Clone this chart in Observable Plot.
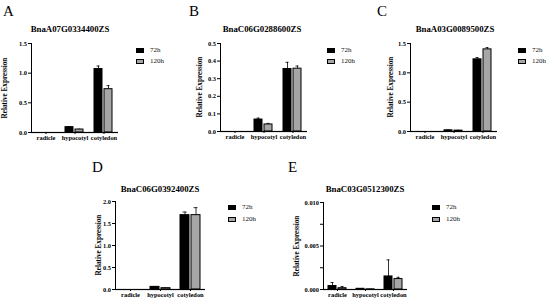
<!DOCTYPE html>
<html>
<head>
<meta charset="utf-8">
<script src="https://cdn.jsdelivr.net/npm/d3@7"></script>
<script src="https://cdn.jsdelivr.net/npm/@observablehq/plot@0.6"></script>
<style>
  html, body { margin: 0; padding: 0; background: #fff; }
  #root { position: relative; width: 550px; height: 304px; overflow: hidden; background: #fff; font-family: "Liberation Serif", "Times New Roman", serif; }
  .abs { position: absolute; white-space: nowrap; }
  .letter { font-size: 15px; line-height: 15px; color: #000; }
  .title { font-size: 8.8px; line-height: 9px; font-weight: bold; text-align: center; width: 200px; }
  .ylab { font-size: 7.2px; line-height: 8px; font-weight: bold; text-align: center; width: 120px; transform: rotate(-90deg); transform-origin: 50% 50%; }
  .leg { font-size: 7px; line-height: 7px; color: #111; }
  .sw { position: absolute; width: 8px; height: 5px; box-sizing: border-box; }
  svg { overflow: visible; }
</style>
</head>
<body>
<div id="root"></div>
<script>
// ---- data ----
const categories = ["radicle", "hypocotyl", "cotyledon"];
const series = ["72h", "120h"];
const panelLetters = ["A", "B", "C", "D", "E"];
const genes = ["BnaA07G0334400ZS", "BnaC06G0288600ZS", "BnaA03G0089500ZS", "BnaC06G0392400ZS", "BnaC03G0512300ZS"];
const yLabel = "Relative Expression";

// means and errors (per category: radicle, hypocotyl, cotyledon)
const A_72 = [0, 0.09, 1.07];
const A_72err = [0, 0.008, 0.05];
const A_120 = [0, 0.05, 0.73];
const A_120err = [0, 0.005, 0.06];

const B_72 = [0, 0.068, 0.355];
const B_72err = [0, 0.008, 0.038];
const B_120 = [0, 0.040, 0.357];
const B_120err = [0, 0.006, 0.015];

const C_72 = [0, 0.02, 1.23];
const C_72err = [0, 0.005, 0.03];
const C_120 = [0, 0.015, 1.40];
const C_120err = [0, 0.004, 0.03];

const D_72 = [0, 0.06, 1.69];
const D_72err = [0, 0.005, 0.07];
const D_120 = [0, 0.03, 1.69];
const D_120err = [0, 0.003, 0.17];

const E_72 = [0.0004, 0.00008, 0.0015];
const E_72err = [0.0004, 0.00003, 0.0019];
const E_120 = [0.00015, 0.00002, 0.0012];
const E_120err = [0.0002, 0.00001, 0.0002];

const A_ticks = [0, 0.5, 1.0, 1.5];
const B_ticks = [0, 0.1, 0.2, 0.3, 0.4, 0.5];
const C_ticks = [0, 0.5, 1.0, 1.5];
const D_ticks = [0, 0.5, 1.0, 1.5, 2.0];
const E_ticks = [0, 0.0025, 0.005, 0.0075, 0.010];
const E_labeled = [0, 0.005, 0.010];

// ---- layout ----
const panels = [
  {means: [A_72, A_120], errs: [A_72err, A_120err], max: 1.5, ticks: A_ticks, fmt: d3.format(".1f"),
   axisX: 30, topY: 43, zeroY: 132, right: 118, ylabX: 5,
   letter: [3, 4], title: [70, 29.5], legend: [136, 48, 59]},
  {means: [B_72, B_120], errs: [B_72err, B_120err], max: 0.5, ticks: B_ticks, fmt: d3.format(".1f"),
   axisX: 219, topY: 43, zeroY: 131, right: 307, ylabX: 200,
   letter: [189, 4], title: [262, 29.5], legend: [327, 48, 59]},
  {means: [C_72, C_120], errs: [C_72err, C_120err], max: 1.5, ticks: C_ticks, fmt: d3.format(".1f"),
   axisX: 409, topY: 43, zeroY: 131, right: 497, ylabX: 391,
   letter: [377, 4], title: [455, 29.5], legend: [518, 48, 59]},
  {means: [D_72, D_120], errs: [D_72err, D_120err], max: 2.0, ticks: D_ticks, fmt: d3.format(".1f"),
   axisX: 115, topY: 201, zeroY: 289, right: 205, ylabX: 99,
   letter: [92, 160], title: [160, 189], legend: [228, 205, 217]},
  {means: [E_72, E_120], errs: [E_72err, E_120err], max: 0.010, ticks: E_ticks,
   fmt: d => E_labeled.some(v => Math.abs(v - d) < 1e-9) ? d3.format(".3f")(d) : "",
   axisX: 322, topY: 202, zeroY: 289, right: 407, ylabX: 296.5,
   letter: [288, 160], title: [365, 189], legend: [432, 205, 217]}
];

const root = document.getElementById("root");
const GRAY = "#a6a6a6";
const mL = 34, mT = 8, mB = 14, mR = 2;

function addDiv(cls, left, top, text, extra) {
  const d = document.createElement("div");
  d.className = "abs " + cls;
  d.style.left = left + "px";
  d.style.top = top + "px";
  if (text != null) d.textContent = text;
  if (extra) Object.assign(d.style, extra);
  root.appendChild(d);
  return d;
}

panels.forEach((p, k) => {
  const data = [];
  categories.forEach((c, i) => series.forEach((s, j) => {
    data.push({cat: c, ser: s, mean: p.means[j][i], err: p.errs[j][i]});
  }));
  const plotW = p.right - p.axisX, plotH = p.zeroY - p.topY;
  const svg = Plot.plot({
    width: mL + plotW + mR,
    height: mT + plotH + mB,
    marginLeft: mL, marginRight: mR, marginTop: mT, marginBottom: mB,
    style: {fontFamily: "Liberation Serif", fontSize: "6.4px", fontWeight: "bold", background: "transparent", overflow: "visible", color: "#000"},
    fx: {domain: categories, padding: 0, label: null, tickSize: 2, tickPadding: 1},
    x: {domain: series, axis: null, paddingInner: 0.18, paddingOuter: 0.42},
    y: {domain: [0, p.max], ticks: p.ticks, tickFormat: p.fmt, line: true, tickSize: 3, tickPadding: 1.5, label: null},
    color: {domain: series, range: ["#000000", GRAY]},
    marks: [
      Plot.ruleX(data, {fx: "cat", x: "ser", y1: "mean", y2: d => d.mean + d.err, stroke: "#000", strokeWidth: 0.8}),
      Plot.tickY(data, {fx: "cat", x: "ser", y: d => d.mean + d.err, stroke: "#000", strokeWidth: 0.8, insetLeft: 2.5, insetRight: 2.5}),
      Plot.barY(data, {fx: "cat", x: "ser", y: "mean", fill: "ser", stroke: "#000", strokeWidth: 1}),
      Plot.ruleY([0], {stroke: "#000", strokeWidth: 1.2})
    ]
  });
  svg.style.position = "absolute";
  svg.style.left = (p.axisX - mL) + "px";
  svg.style.top = (p.topY - mT) + "px";
  root.appendChild(svg);

  // rotated y-axis label
  const cy = (p.topY + p.zeroY) / 2;
  addDiv("ylab", p.ylabX - 60, cy - 4, yLabel);
  // panel letter
  addDiv("letter", p.letter[0], p.letter[1], panelLetters[k]);
  // title
  addDiv("title", p.title[0] - 100, p.title[1] - 4.5, genes[k]);
  // legend
  const lx = p.legend[0];
  series.forEach((s, j) => {
    const y = p.legend[1 + j];
    addDiv("sw", lx, y, null, j === 0 ? {background: "#000"} : {background: GRAY, border: "1px solid #000"});
    addDiv("leg", lx + 14, y - 1, s);
  });
});
</script>
</body>
</html>
